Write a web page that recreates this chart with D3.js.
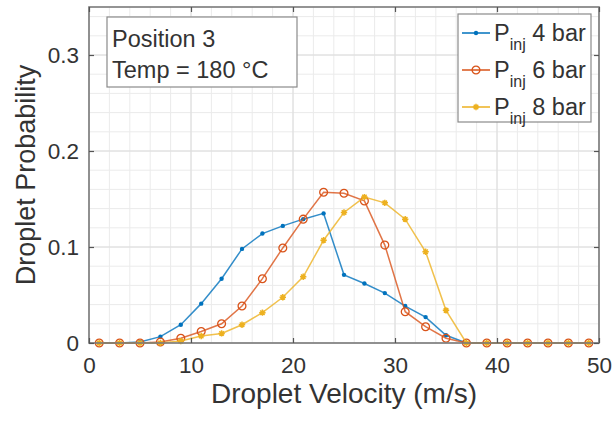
<!DOCTYPE html>
<html>
<head>
<meta charset="utf-8">
<script src="https://cdn.jsdelivr.net/npm/d3@7"></script>
<style>
html,body{margin:0;padding:0;background:#fff;}
svg{display:block;font-family:"Liberation Sans",Arial,Helvetica,sans-serif;}
</style>
</head>
<body>
<svg id="chart" width="615" height="423"></svg>
<script>
// ---- data ----
const velocity = [1,3,5,7,9,11,13,15,17,19,21,23,25,27,29,31,33,35,37,39,41,43,45,47,49];
const p4bar = [0,0,0.001,0.0066,0.019,0.041,0.067,0.098,0.114,0.122,0.129,0.135,0.071,0.062,0.052,0.0385,0.027,0.008,0,0,0,0,0,0,0];
const p6bar = [0,0,0,0.001,0.005,0.012,0.020,0.0385,0.067,0.099,0.129,0.157,0.156,0.148,0.102,0.0326,0.017,0.005,0,0,0,0,0,0,0];
const p8bar = [0,0,0,0,0.002,0.0073,0.010,0.019,0.0316,0.0476,0.069,0.107,0.136,0.152,0.146,0.129,0.095,0.034,0,0,0,0,0,0,0];
const seriesNames = ["4 bar","6 bar","8 bar"];
const xTicks = [0,10,20,30,40,50];
const yTicks = [0,0.1,0.2,0.3];
const annotationLines = ["Position 3","Temp = 180 °C"];
const xLabel = "Droplet Velocity (m/s)";
const yLabel = "Droplet Probability";

const colors = ["#0072BD","#D95319","#EDB120"];
const markers = ["dot","circle","star"];
const seriesData = [p4bar,p6bar,p8bar];

const W=615,H=423;
const m={left:89,right:16,top:7,bottom:80};
const iw=W-m.left-m.right, ih=H-m.top-m.bottom;
const svg=d3.select("#chart");
const g=svg.append("g").attr("transform",`translate(${m.left},${m.top})`);
const x=d3.scaleLinear().domain([0,50]).range([0,iw]);
const y=d3.scaleLinear().domain([0,0.35]).range([ih,0]);

// grid minor
const xMinor=d3.range(0,50.001,2), yMinor=d3.range(0,0.3501,0.02);
g.append("g").selectAll("line").data(xMinor).join("line")
 .attr("x1",d=>x(d)).attr("x2",d=>x(d)).attr("y1",0).attr("y2",ih)
 .attr("stroke","#ebebeb").attr("stroke-width",1);
g.append("g").selectAll("line").data(yMinor).join("line")
 .attr("y1",d=>y(d)).attr("y2",d=>y(d)).attr("x1",0).attr("x2",iw)
 .attr("stroke","#ebebeb").attr("stroke-width",1);
// grid major
g.append("g").selectAll("line").data(xTicks).join("line")
 .attr("x1",d=>x(d)).attr("x2",d=>x(d)).attr("y1",0).attr("y2",ih)
 .attr("stroke","#dcdcdc").attr("stroke-width",1);
g.append("g").selectAll("line").data(yTicks).join("line")
 .attr("y1",d=>y(d)).attr("y2",d=>y(d)).attr("x1",0).attr("x2",iw)
 .attr("stroke","#dcdcdc").attr("stroke-width",1);

// series
const line=d3.line().x((d,i)=>x(velocity[i])).y(d=>y(d));
function drawMarker(sel,type,color){
  if(type==="dot"){
    sel.append("circle").attr("r",2.2).attr("fill",color);
  } else if(type==="circle"){
    sel.append("circle").attr("r",3.9).attr("fill","none").attr("stroke",color).attr("stroke-width",1.3);
  } else {
    const s=3.2;
    sel.append("path").attr("d",`M${-s},0L${s},0M0,${-s}L0,${s}M${-s*0.7},${-s*0.7}L${s*0.7},${s*0.7}M${-s*0.7},${s*0.7}L${s*0.7},${-s*0.7}`)
      .attr("stroke",color).attr("stroke-width",1.5).attr("fill","none");
    sel.append("circle").attr("r",1.6).attr("fill",color);
  }
}
seriesData.forEach((data,k)=>{
  const sg=g.append("g");
  sg.append("path").datum(data).attr("d",line).attr("fill","none")
    .attr("stroke",colors[k]).attr("stroke-width",1.5).attr("stroke-opacity",0.8);
  sg.selectAll("g.pt").data(data).join("g").attr("class","pt")
    .attr("transform",(d,i)=>`translate(${x(velocity[i])},${y(d)})`)
    .each(function(){drawMarker(d3.select(this),markers[k],colors[k]);});
});

// axes box
g.append("rect").attr("x",0).attr("y",0).attr("width",iw).attr("height",ih)
 .attr("fill","none").attr("stroke","#7a7a7a").attr("stroke-width",1.6);
// axes with inside ticks
const tk=5;
const xb=g.append("g").attr("transform",`translate(0,${ih})`)
 .call(d3.axisBottom(x).tickValues(xTicks).tickSizeInner(-tk).tickSizeOuter(0).tickPadding(14).tickFormat(d3.format("d")));
const xt=g.append("g").call(d3.axisTop(x).tickValues(xTicks).tickSizeInner(-tk).tickSizeOuter(0).tickFormat(""));
const yl=g.append("g").call(d3.axisLeft(y).tickValues(yTicks).tickSizeInner(-tk).tickSizeOuter(0).tickPadding(10).tickFormat(d=>d===0?"0":d3.format(".1f")(d)));
const yr=g.append("g").attr("transform",`translate(${iw},0)`).call(d3.axisRight(y).tickValues(yTicks).tickSizeInner(-tk).tickSizeOuter(0).tickFormat(""));
[xb,xt,yl,yr].forEach(a=>{
  a.select(".domain").remove();
  a.selectAll(".tick line").attr("stroke","#555").attr("stroke-width",1.2);
  a.selectAll("text").attr("fill","#333").style("font-size","22.5px").style("font-family","Liberation Sans, Arial, sans-serif");
});

// axis labels
svg.append("text").attr("x",m.left+iw/2).attr("y",403).attr("text-anchor","middle")
 .attr("fill","#333").style("font-size","28px").text(xLabel);
svg.append("text").attr("transform",`translate(35,${m.top+ih/2}) rotate(-90)`).attr("text-anchor","middle")
 .attr("fill","#333").style("font-size","27px").text(yLabel);

// annotation box
const ab=svg.append("g");
ab.append("rect").attr("x",107).attr("y",17).attr("width",190).attr("height",70)
 .attr("fill","#fff").attr("stroke","#8a8a8a").attr("stroke-width",1.2);
annotationLines.forEach((t,i)=>{
  ab.append("text").attr("x",112).attr("y",47+i*31).attr("fill","#333")
    .style("font-size","23.5px").text(t);
});

// legend
const lg=svg.append("g");
lg.append("rect").attr("x",458).attr("y",14).attr("width",133).attr("height",108)
 .attr("fill","#fff").attr("stroke","#8a8a8a").attr("stroke-width",1.2);
seriesNames.forEach((nm,k)=>{
  const cy=33+k*37;
  const row=lg.append("g");
  row.append("line").attr("x1",462).attr("x2",490).attr("y1",cy).attr("y2",cy)
    .attr("stroke",colors[k]).attr("stroke-width",1.5);
  drawMarker(row.append("g").attr("transform",`translate(476,${cy})`),markers[k],colors[k]);
  const t=row.append("text").attr("x",494).attr("y",cy+8).attr("fill","#333").style("font-size","23.5px");
  t.append("tspan").text("P");
  t.append("tspan").attr("dy",9).style("font-size","16px").text("inj");
  t.append("tspan").attr("dy",-9).text(" "+nm);
});
</script>
</body>
</html>
